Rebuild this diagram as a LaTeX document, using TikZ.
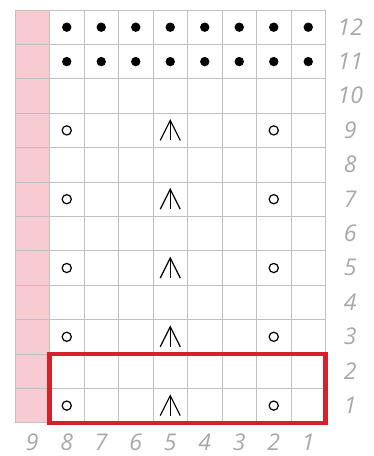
\documentclass[tikz,border=0pt]{standalone}
\usepackage{fontspec}
\setmainfont{Open Sans}
\usetikzlibrary{calc}

\definecolor{chartpink}{RGB}{248,203,211}
\definecolor{chartgrid}{RGB}{192,192,192}
\definecolor{chartred}{RGB}{210,35,45}
\definecolor{labelgray}{RGB}{168,168,168}

\begin{document}
\begin{tikzpicture}[x=1pt,y=-1pt,
  lbl/.style={text=labelgray,font=\fontsize{23}{23}\selectfont\itshape,inner sep=0pt,anchor=base},
  gridline/.style={draw=chartgrid,line width=1pt}]
\pgfmathsetmacro{\W}{34.5} % cell width
\pgfmathsetmacro{\H}{34.4} % cell height
\useasboundingbox (0,0) rectangle (374,456);

% reference node, top left corner of the chart
\coordinate (r) at (15,10);

% pink edge column
\fill[chartpink] (r) rectangle ($(r)+(\W,12*\H)$);

% grid lines
\foreach \i in {0,...,9}
  \draw[gridline] ($(r)+(\i*\W,0)$) -- ($(r)+(\i*\W,12*\H)$);
\foreach \j in {0,...,12}
  \draw[gridline] ($(r)+(0,\j*\H)$) -- ($(r)+(9*\W,\j*\H)$);

% cell centres, numbered by stitch and row
\foreach \col in {1,...,9}
\foreach \row in {1,...,12}
{
\coordinate (c\col-\row) at ($(r)+({(9.5-\col)*\W},{(12.5-\row)*\H})$);
}

% purl rows
\foreach \row in {11,12}
\foreach \col in {1,...,8}
  \fill (c\col-\row) circle (4.7);

% yarn overs and central double decreases
\foreach \row in {1,3,5,7,9}
{
\draw[line width=1.2pt] (c8-\row) circle (4.6);
\draw[line width=1.2pt] (c2-\row) circle (4.6);
\draw[line width=1.2pt] ($(c5-\row)+(0,10)$) -- ($(c5-\row)+(0,-10)$);
\draw[line width=1.2pt] ($(c5-\row)+(-10,10)$) -- ($(c5-\row)+(0,-10)$) -- ($(c5-\row)+(10,10)$);
}

% repeat box
\draw[chartred,line width=4.5pt] ($(r)+(\W,10*\H)$) rectangle ($(r)+(9*\W,12*\H)$);

% row numbers
\foreach \row in {1,...,12}
  \node[lbl] (row\row) at ($(c1-\row)+(42,7.8)$) {\row};

% stitch numbers
\foreach \col in {1,...,9}
  \node[lbl] (st\col) at ($(c\col-1)+(0,44.5)$) {\col};
\end{tikzpicture}
\end{document}
